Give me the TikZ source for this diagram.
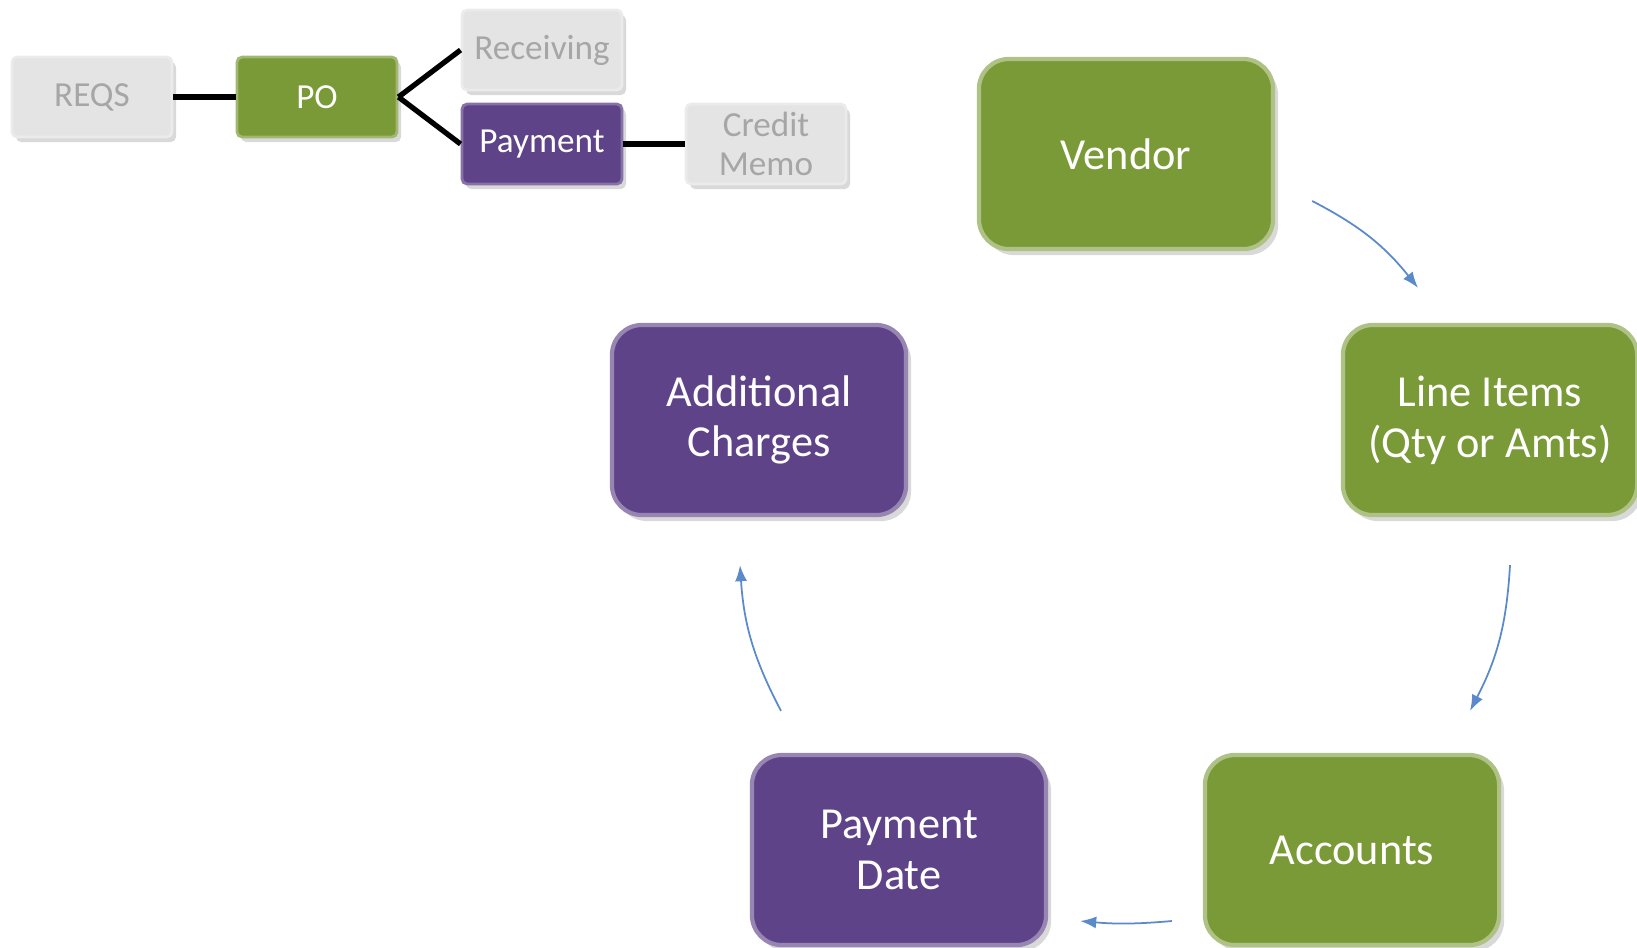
\documentclass[tikz,border=0pt]{standalone}
\usepackage{fontspec}
\setmainfont{Carlito}
\usetikzlibrary{positioning,calc,arrows.meta,shadows}
\definecolor{olive}{HTML}{799A36}
\definecolor{plum}{HTML}{5F4389}
\definecolor{ash}{HTML}{E4E4E4}
\definecolor{ashtext}{HTML}{A6A6A6}
\definecolor{flow}{HTML}{5B8ACB}

\begin{document}
\begin{tikzpicture}[x=0.01cm,y=-0.01cm,
    tab/.style={minimum width=1.6cm,minimum height=0.8cm,rounded corners=1.5pt,
      align=center,inner sep=0pt,font=\fontsize{10}{11.2}\selectfont,line width=0.8pt,
      drop shadow={opacity=0.3,shadow xshift=0.4mm,shadow yshift=-0.5mm}},
    graytab/.style={tab,fill=ash,draw=white!92!black,text=ashtext},
    greentab/.style={tab,fill=olive,draw=olive!70!white,text=white},
    purpletab/.style={tab,fill=plum,draw=plum!75!white,text=white},
    card/.style={minimum width=2.94cm,minimum height=1.9cm,rounded corners=0.3cm,
      align=center,inner sep=0pt,font=\fontsize{12.6}{14.4}\selectfont,line width=1.2pt,text=white,
      drop shadow={opacity=0.3,shadow xshift=0.5mm,shadow yshift=-0.6mm}},
    greencard/.style={card,fill=olive,draw=olive!60!white},
    purplecard/.style={card,fill=plum,draw=plum!65!white},
    link/.style={line width=1.5pt},
    cycle/.style={draw=flow,line width=0.5pt,-{Latex[length=1.6mm,width=1.2mm]},bend left=12}]
  \useasboundingbox (0,0) rectangle (1637,947);

  \path
  (92,97) node[graytab](reqs) {REQS}
  (317,97) node[greentab](po) {PO}
  (542,50) node[graytab](recv) {Receiving}
  (542,144) node[purpletab](pay) {Payment}
  (766,144) node[graytab](memo) {Credit\\Memo}
  (1126,154) node[greencard](vendor) {Vendor}
  (1490,420) node[greencard](items) {Line Items\\(Qty or Amts)}
  (1352,850) node[greencard](accts) {Accounts}
  (899,850) node[purplecard](pdate) {Payment\\Date}
  (759,420) node[purplecard](extra) {Additional\\Charges}
  ;

  \draw[link] (reqs) -- (po);
  \draw[link] (po.east) -- (recv.west);
  \draw[link] (po.east) -- (pay.west);
  \draw[link] (pay) -- (memo);

  \draw[cycle] ($(vendor.east)+(37,47)$) to ($(items.north)+(-72,-35)$);
  \draw[cycle] ($(items.south)+(20,48)$) to ($(accts.north)+(118,-42)$);
  \draw[cycle,bend left=5] ($(accts.west)+(-31,71)$) to ($(pdate.east)+(32,71)$);
  \draw[cycle] ($(pdate.north)+(-118,-42)$) to ($(extra.south)+(-19,48)$);
\end{tikzpicture}
\end{document}
